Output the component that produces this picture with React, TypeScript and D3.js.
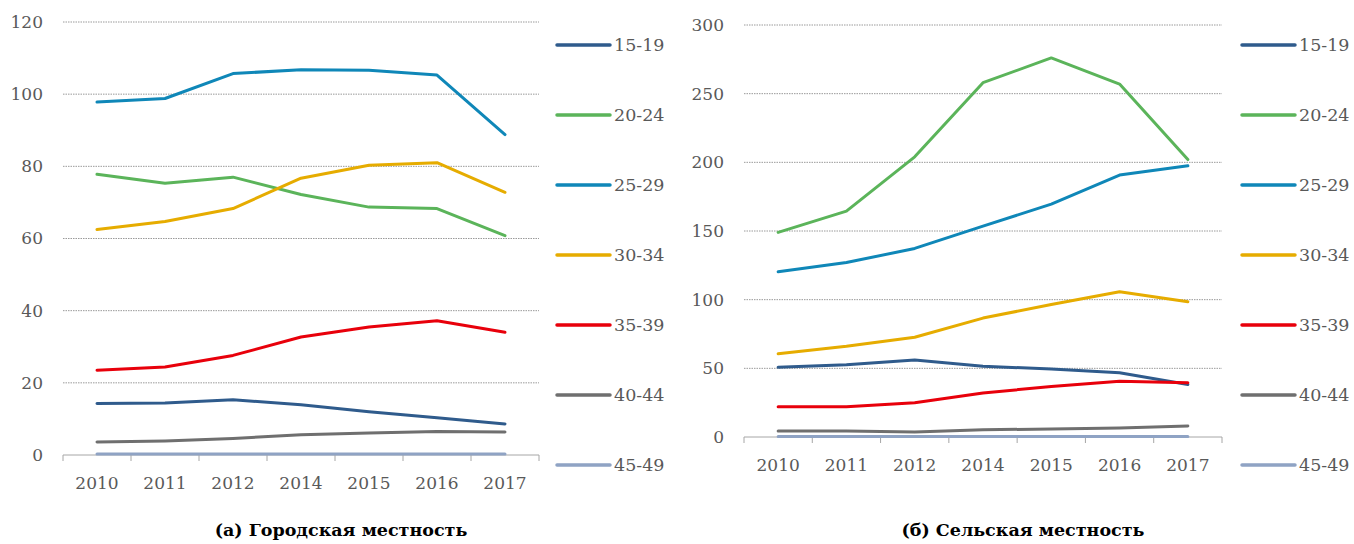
import * as d3 from 'd3';

const years = ['2010', '2011', '2012', '2014', '2015', '2016', '2017'];
const groups = ['15-19', '20-24', '25-29', '30-34', '35-39', '40-44', '45-49'];
const colors = ['#2f5b8c', '#5bb45a', '#0f87b8', '#e6ac00', '#e8000b', '#6f6f6f', '#8fa3c4'];

// Городская местность
const urban15 = [14.3, 14.4, 15.3, 13.9, 12.0, 10.3, 8.6];
const urban20 = [77.8, 75.3, 77.0, 72.2, 68.7, 68.3, 60.8];
const urban25 = [97.8, 98.8, 105.7, 106.8, 106.6, 105.3, 88.8];
const urban30 = [62.5, 64.7, 68.3, 76.7, 80.3, 81.0, 72.8];
const urban35 = [23.5, 24.4, 27.6, 32.7, 35.5, 37.2, 34.0];
const urban40 = [3.6, 3.9, 4.6, 5.6, 6.1, 6.5, 6.4];
const urban45 = [0.3, 0.3, 0.3, 0.3, 0.3, 0.3, 0.3];

// Сельская местность
const rural15 = [50.7, 52.6, 56.0, 51.5, 49.5, 46.8, 38.3];
const rural20 = [149, 164.5, 204, 258, 276, 257, 202];
const rural25 = [120.3, 127, 137.3, 153.5, 169.6, 190.7, 197.5];
const rural30 = [60.6, 66, 72.6, 86.6, 96.5, 105.8, 98.5];
const rural35 = [22, 22, 25, 32, 36.8, 40.6, 39.5];
const rural40 = [4.4, 4.4, 3.6, 5.3, 5.8, 6.6, 8.0];
const rural45 = [0.3, 0.3, 0.3, 0.3, 0.3, 0.4, 0.4];

const urbanTicks = [0, 20, 40, 60, 80, 100, 120];
const ruralTicks = [0, 50, 100, 150, 200, 250, 300];

const FONT = "DejaVu Serif";
const GREY = '#595959';

type PanelProps = {
  series: number[][];
  ticks: number[];
  left: number;
  right: number;
  top: number;
  bottom: number;
  legendX: number;
  caption: string;
};

function Panel({ series, ticks, left, right, top, bottom, legendX, caption }: PanelProps) {
  const x = d3.scalePoint<string>().domain(years).range([left, right]).padding(0.5);
  const band = d3.scaleBand<string>().domain(years).range([left, right]);
  const y = d3.scaleLinear().domain([0, d3.max(ticks)!]).range([bottom, top]);
  const line = d3
    .line<number>()
    .x((_, i) => x(years[i])!)
    .y((d) => y(d));
  const legendY = d3.scalePoint<string>().domain(groups).range([45, 465]);
  const tickXs = [...years.map((yr) => band(yr)!), right];
  const txt = { fontFamily: FONT, fontSize: 17, fill: GREY };

  return (
    <g>
      {ticks
        .filter((t) => t > 0)
        .map((t) => (
          <line
            key={t}
            x1={left}
            x2={right}
            y1={y(t)}
            y2={y(t)}
            stroke="#9a9a9a"
            strokeWidth={1}
            strokeDasharray="1.5,1"
          />
        ))}
      <line x1={left} x2={right} y1={bottom} y2={bottom} stroke="#a6a6a6" strokeWidth={1} />
      {tickXs.map((tx, i) => (
        <line key={i} x1={tx} x2={tx} y1={bottom} y2={bottom + 6} stroke="#a6a6a6" strokeWidth={1} />
      ))}
      {ticks.map((t) => (
        <text key={t} x={left - 20} y={y(t)} dy="0.35em" textAnchor="end" style={txt}>
          {t}
        </text>
      ))}
      {years.map((yr) => (
        <text key={yr} x={x(yr)} y={bottom + 28} dy="0.35em" textAnchor="middle" style={txt}>
          {yr}
        </text>
      ))}
      {series.map((s, i) => (
        <path
          key={groups[i]}
          d={line(s)!}
          fill="none"
          stroke={colors[i]}
          strokeWidth={3}
          strokeLinecap="round"
          strokeLinejoin="round"
        />
      ))}
      {groups.map((g, i) => (
        <g key={g} transform={`translate(${legendX},${legendY(g)})`}>
          <line x1={0} x2={53} y1={0} y2={0} stroke={colors[i]} strokeWidth={3.5} strokeLinecap="round" />
          <text x={57} y={0} dy="0.35em" style={{ ...txt, fontSize: 17.5 }}>
            {g}
          </text>
        </g>
      ))}
      <text
        x={(left + right) / 2 + 40}
        y={530}
        dy="0.35em"
        textAnchor="middle"
        style={{ fontFamily: FONT, fontSize: 17.5, fontWeight: 'bold', fill: '#000' }}
      >
        {caption}
      </text>
    </g>
  );
}

export default function App() {
  return (
    <svg
      width={1354}
      height={544}
      style={{ position: 'absolute', left: 0, top: 0, background: '#fff' }}
    >
      <Panel
        series={[urban15, urban20, urban25, urban30, urban35, urban40, urban45]}
        ticks={urbanTicks}
        left={63}
        right={539}
        top={22}
        bottom={455}
        legendX={557}
        caption="(а) Городская местность"
      />
      <Panel
        series={[rural15, rural20, rural25, rural30, rural35, rural40, rural45]}
        ticks={ruralTicks}
        left={744}
        right={1222}
        top={25}
        bottom={437}
        legendX={1242}
        caption="(б) Сельская местность"
      />
    </svg>
  );
}
